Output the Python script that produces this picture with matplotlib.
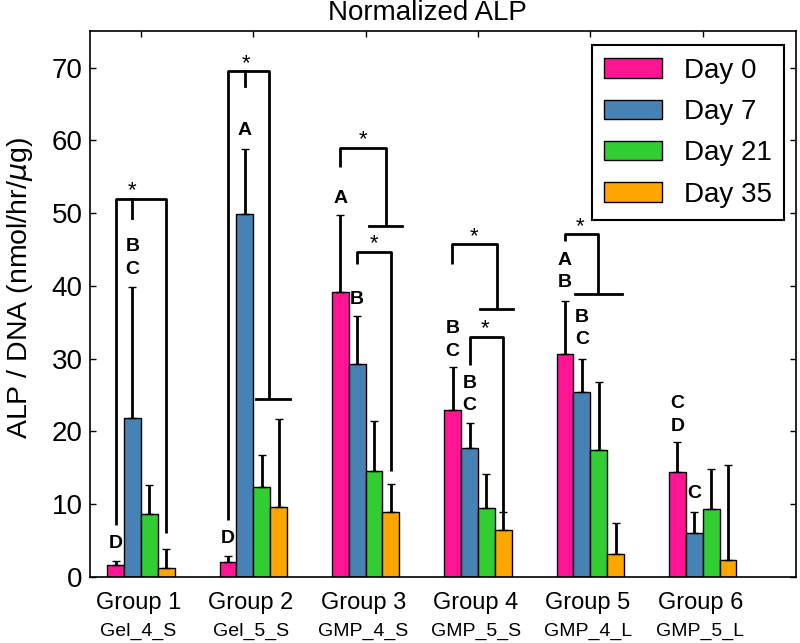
import numpy as np
import matplotlib
matplotlib.use('Agg')
import matplotlib.pyplot as plt

# data
groups = ['Group 1', 'Group 2', 'Group 3', 'Group 4', 'Group 5', 'Group 6']
samples = ['Gel_4_S', 'Gel_5_S', 'GMP_4_S', 'GMP_5_S', 'GMP_4_L', 'GMP_5_L']
days = ['Day 0', 'Day 7', 'Day 21', 'Day 35']

day0 = [1.6, 2.1, 39.2, 23.0, 30.6, 14.4]
day7 = [21.8, 49.9, 29.2, 17.7, 25.4, 6.0]
day21 = [8.6, 12.3, 14.5, 9.5, 17.5, 9.3]
day35 = [1.2, 9.6, 9.0, 6.5, 3.1, 2.3]

day0_err = [0.6, 0.8, 10.5, 5.8, 7.3, 4.1]
day7_err = [18.0, 8.9, 6.7, 3.4, 4.6, 2.9]
day21_err = [4.0, 4.4, 7.0, 4.6, 9.3, 5.6]
day35_err = [2.6, 12.1, 3.8, 2.4, 4.3, 13.1]

# letters: (group, bar, letter, y)
letters = [(0, 0, 'D', 4.6), (0, 1, 'B', 45.4), (0, 1, 'C', 42.3),
           (1, 0, 'D', 5.3), (1, 1, 'A', 61.3),
           (2, 0, 'A', 52.0), (2, 1, 'B', 38.1),
           (3, 0, 'B', 34.1), (3, 0, 'C', 31.0), (3, 1, 'B', 26.6), (3, 1, 'C', 23.5),
           (4, 0, 'A', 43.5), (4, 0, 'B', 40.5), (4, 1, 'B', 35.7), (4, 1, 'C', 32.6),
           (5, 0, 'C', 23.9), (5, 0, 'D', 20.7), (5, 1, 'C', 11.5)]

# significance brackets
# (group, left x, left y, right x, right y, top y, tick (x, y) or None, tee (x0, x1) or None, star x)
brackets = [(0, -0.225, 7.1, 0.225, 6.0, 52.0, (-0.075, 49.3), None, -0.075),
            (1, -0.225, 7.8, 0.142, 24.5, 69.5, (-0.075, 67.4), (0.023, 0.326), -0.06),
            (2, -0.225, 56.3, 0.18, 48.2, 59.0, None, (0.03, 0.32), -0.02),
            (2, -0.075, 43.0, 0.225, 14.5, 44.7, None, None, 0.075),
            (3, -0.235, 43.0, 0.166, 36.8, 45.7, None, (0.02, 0.31), -0.035),
            (3, -0.075, 29.1, 0.225, 9.0, 33.0, None, None, 0.065),
            (4, -0.225, 46.1, 0.07, 38.9, 47.1, None, (-0.14, 0.28), -0.095)]

colors = ['#FF1493', '#4682B4', '#32CD32', '#FFA500']

plt.rcParams['font.family'] = ['Liberation Sans', 'DejaVu Sans']

fig = plt.figure(figsize=(8, 6.43), dpi=100)
ax = fig.add_axes([0.113, 0.1026, 0.882, 0.849])

x = np.arange(1, 7)
w = 0.15
offs = [-1.5 * w, -0.5 * w, 0.5 * w, 1.5 * w]
means = [day0, day7, day21, day35]
errs = [day0_err, day7_err, day21_err, day35_err]

for i in range(4):
    ax.bar(x + offs[i], means[i], w, color=colors[i], edgecolor='black',
           linewidth=1, label=days[i], zorder=2)
    ax.errorbar(x + offs[i], means[i], yerr=[np.zeros(6), errs[i]], fmt='none',
                ecolor='black', elinewidth=2, capsize=3, capthick=1, zorder=3)

for g, b, t, y in letters:
    ax.text(x[g] + offs[b], y, t, ha='center', va='center', fontsize=14,
            fontweight='bold', zorder=4)

for g, xl, yl, xr, yr, top, tick, tee, sx in brackets:
    c = x[g]
    ax.plot([c + xl, c + xl, c + xr, c + xr], [yl, top, top, yr],
            color='black', lw=2, zorder=4, solid_capstyle='butt')
    if tick is not None:
        ax.plot([c + tick[0], c + tick[0]], [top, tick[1]], color='black', lw=2, zorder=4)
    if tee is not None:
        ax.plot([c + tee[0], c + tee[1]], [yr, yr], color='black', lw=2, zorder=4)
    ax.text(c + sx, top + 0.3, '*', ha='center', va='baseline', fontsize=16, zorder=4)

ax.set_xlim(0.551, 6.83)
ax.set_ylim(0, 75)
ax.set_yticks(np.arange(0, 71, 10))
ax.set_xticks(x)
ax.set_xticklabels([])
ax.tick_params(axis='y', direction='in', length=4, width=1, right=True,
               labelsize=20, pad=5.5)
ax.tick_params(axis='x', direction='in', length=4, width=1, bottom=False, top=True)
for s in ax.spines.values():
    s.set_linewidth(1.2)

trans = ax.get_xaxis_transform()
for i in range(6):
    ax.text(x[i] - 0.02, -0.0476, groups[i], transform=trans, ha='center',
            va='center', fontsize=17)
    ax.text(x[i] - 0.02, -0.099, samples[i], transform=trans, ha='center',
            va='center', fontsize=14)

ax.set_ylabel('ALP / DNA (nmol/hr/$\\mu$g)', fontsize=20.5)
ax.yaxis.set_label_coords(-0.079, 0.53)

fig.text(427 / 800, 1 - 13 / 643, 'Normalized ALP', ha='center', va='center', fontsize=20)

leg = ax.legend(loc='upper right', bbox_to_anchor=(0.983, 0.974), borderaxespad=0,
                fontsize=20, fancybox=False, edgecolor='black', framealpha=1,
                handlelength=2.07, handleheight=0.71, handletextpad=0.78,
                labelspacing=0.55, borderpad=0.45)
leg.get_frame().set_linewidth(1.5)

fig.savefig('out.png', dpi=100)
